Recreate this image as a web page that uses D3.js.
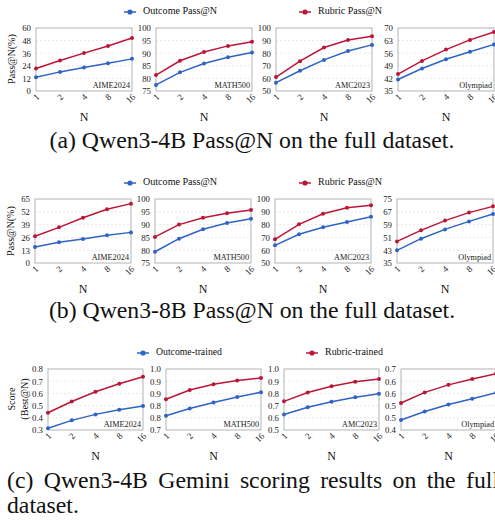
<!DOCTYPE html>
<html>
<head>
<meta charset="utf-8" />
<title>Pass@N</title>
<style type="text/css">
body{
	margin:0;
	background:#fff;
}
svg{
	display:block;
	font-family:"Liberation Serif","DejaVu Serif",serif;
}
</style>
<script src="https://cdn.jsdelivr.net/npm/d3@7"></script>
</head>
<body>
<div id="chart"></div>
<script>
	// x categories and panel names
	var nValues = ["1", "2", "4", "8", "16"];
	var datasets = ["AIME2024", "MATH500", "AMC2023", "Olympiad"];

	// (a) Qwen3-4B Pass@N
	var a_outcome = [
		[13.1, 18.2, 22.3, 26.5, 30.6],
		[77.4, 82.4, 85.9, 88.4, 90.3],
		[56.6, 66.1, 74.7, 81.8, 86.6],
		[41.4, 47.5, 52.6, 56.8, 60.9]
	];
	var a_rubric = [
		[21.4, 29.0, 36.1, 42.8, 50.4],
		[81.3, 87.0, 90.5, 92.9, 94.5],
		[61.1, 73.7, 84.5, 90.5, 93.4],
		[44.4, 51.7, 58.0, 63.4, 67.8]
	];
	var a_ticks = [
		[0, 12, 24, 36, 48, 60],
		[75, 80, 85, 90, 95, 100],
		[50, 60, 70, 80, 90, 100],
		[35, 42, 49, 56, 63, 70]
	];

	// (b) Qwen3-8B Pass@N
	var b_outcome = [
		[16.2, 21.0, 24.4, 28.1, 31.1],
		[79.4, 84.5, 88.2, 90.6, 92.3],
		[63.8, 72.4, 77.9, 82.0, 86.2],
		[42.9, 50.2, 56.0, 61.0, 65.6]
	];
	var b_rubric = [
		[27.1, 36.2, 46.0, 54.5, 60.3],
		[85.2, 90.0, 92.7, 94.4, 95.7],
		[68.5, 80.2, 88.5, 93.2, 95.1],
		[48.5, 55.4, 61.5, 66.5, 70.4]
	];
	var b_ticks = [
		[0, 13, 26, 39, 52, 65],
		[75, 80, 85, 90, 95, 100],
		[50, 60, 70, 80, 90, 100],
		[35, 43, 51, 59, 67, 75]
	];

	// (c) Qwen3-4B Gemini scoring
	var c_outcome = [
		[0.314, 0.379, 0.428, 0.466, 0.496],
		[0.770, 0.806, 0.835, 0.862, 0.886],
		[0.627, 0.686, 0.732, 0.768, 0.797],
		[0.449, 0.491, 0.525, 0.554, 0.583]
	];
	var c_rubric = [
		[0.441, 0.534, 0.614, 0.679, 0.736],
		[0.851, 0.897, 0.925, 0.944, 0.956],
		[0.735, 0.808, 0.859, 0.895, 0.919],
		[0.533, 0.585, 0.622, 0.651, 0.677]
	];
	var c_ticks = [
		[0.3, 0.4, 0.5, 0.6, 0.7, 0.8],
		[0.7, 0.76, 0.82, 0.88, 0.94, 1.0],
		[0.5, 0.6, 0.7, 0.8, 0.9, 1.0],
		[0.4, 0.46, 0.52, 0.58, 0.64, 0.7]
	];

	var BLUE = "#2f63c6";
	var RED = "#bb1638";

	var SVG = d3.select("#chart")
				.append("svg")
				.attr("width", 495)
				.attr("height", 529);

	SVG.append("rect")
		.attr("width", 495)
		.attr("height", 529)
		.attr("fill", "#fff");

	//size a text so that it is as wide as in the picture
	function fit(sel, size, target){
		sel.attr("font-size", size);
		var w = sel.node().getComputedTextLength();
		var s = size * target / w;
		sel.attr("font-size", s);
		return s;
	}

	//one small panel
	function drawPanel(left, top, w, h, name, ticks, fmt, series){
		var g = SVG.append("g").attr("transform", "translate(" + left + "," + top + ")");
		var x = d3.scalePoint().domain(nValues).range([0, w]).padding(0);
		var y = d3.scaleLinear().domain([ticks[0], ticks[ticks.length - 1]]).range([h, 0]);

		//grid
		g.selectAll(".grid")
			.data(ticks.slice(1, -1))
			.enter().append("line")
			.attr("x1", 0).attr("x2", w)
			.attr("y1", function(d){ return y(d); })
			.attr("y2", function(d){ return y(d); })
			.attr("stroke", "#d8d8d8")
			.attr("stroke-width", 0.6)
			.attr("stroke-dasharray", "2,2");

		//y labels
		var yAxis = d3.axisLeft(y).tickValues(ticks).tickFormat(fmt).tickSize(0).tickPadding(5);
		var ya = g.append("g").call(yAxis);
		ya.select(".domain").remove();
		ya.selectAll("text")
			.attr("font-family", "Liberation Serif")
			.attr("font-size", 8.8)
			.attr("fill", "#222");

		//x labels
		var xAxis = d3.axisBottom(x).tickSize(0).tickPadding(0);
		var xa = g.append("g").attr("transform", "translate(0," + h + ")").call(xAxis);
		xa.select(".domain").remove();
		xa.selectAll("text")
			.attr("font-family", "Liberation Serif")
			.attr("font-size", 9)
			.attr("fill", "#222")
			.attr("dy", 0)
			.attr("y", 0)
			.attr("text-anchor", "end")
			.attr("transform", "translate(2,5) rotate(-45)")
			.attr("dominant-baseline", "middle");

		//frame
		g.append("rect")
			.attr("width", w)
			.attr("height", h)
			.attr("fill", "none")
			.attr("stroke", "#a0a0a0")
			.attr("stroke-width", 0.8);

		//lines
		var line = d3.line()
			.x(function(d, i){ return x(nValues[i]); })
			.y(function(d){ return y(d); });
		series.forEach(function(s){
			g.append("path")
				.attr("d", line(s.values))
				.attr("fill", "none")
				.attr("stroke", s.color)
				.attr("stroke-width", 1.5);
			g.selectAll(null)
				.data(s.values)
				.enter().append("circle")
				.attr("cx", function(d, i){ return x(nValues[i]); })
				.attr("cy", function(d){ return y(d); })
				.attr("r", 2)
				.attr("fill", s.color);
		});

		//name
		g.append("text")
			.attr("x", w - 2)
			.attr("y", h - 3)
			.attr("text-anchor", "end")
			.attr("font-size", 8.2)
			.attr("fill", "#222")
			.text(name);

		//N
		g.append("text")
			.attr("x", w / 2)
			.attr("y", h + 30)
			.attr("text-anchor", "middle")
			.attr("font-size", 12)
			.attr("fill", "#111")
			.text("N");
	}

	function legendItem(cx, cy, color, label, width){
		SVG.append("line")
			.attr("x1", cx - 6).attr("x2", cx + 6)
			.attr("y1", cy).attr("y2", cy)
			.attr("stroke", color)
			.attr("stroke-width", 1.5);
		SVG.append("circle")
			.attr("cx", cx).attr("cy", cy)
			.attr("r", 2.6)
			.attr("fill", color);
		var t = SVG.append("text")
			.attr("x", cx + 13)
			.attr("y", cy)
			.attr("dominant-baseline", "middle")
			.attr("fill", "#111")
			.text(label);
		fit(t, 10, width);
	}

	function drawRow(top, h, lefts, w, outcome, rubric, ticks, fmt){
		for( var i = 0; i < 4; i++ ){
			drawPanel(lefts[i], top, w, h, datasets[i], ticks[i], fmt,
				[{values: outcome[i], color: BLUE}, {values: rubric[i], color: RED}]);
		}
	}

	function yTitle(x, y, txt, size){
		return SVG.append("text")
			.attr("transform", "translate(" + x + "," + y + ") rotate(-90)")
			.attr("text-anchor", "middle")
			.attr("dominant-baseline", "middle")
			.attr("font-size", size)
			.attr("fill", "#111")
			.text(txt);
	}

	function caption(x, y, txt, anchor){
		return SVG.append("text")
			.attr("x", x)
			.attr("y", y)
			.attr("text-anchor", anchor)
			.attr("fill", "#111")
			.text(txt);
	}

	//row a
	legendItem(130, 12, BLUE, "Outcome Pass@N", 74);
	legendItem(305, 12, RED, "Rubric Pass@N", 64);
	drawRow(28, 63, [36, 156, 276, 398], 96, a_outcome, a_rubric, a_ticks, d3.format("d"));
	var ys = fit(yTitle(13, 59, "Pass@N(%)", 10), 10, 50);
	var capSize = fit(caption(252, 148, "(a) Qwen3-4B Pass@N on the full dataset.", "middle"), 22, 405);

	//row b
	legendItem(130, 183, BLUE, "Outcome Pass@N", 74);
	legendItem(305, 183, RED, "Rubric Pass@N", 64);
	drawRow(199, 64, [35, 155, 275, 397], 96, b_outcome, b_rubric, b_ticks, d3.format("d"));
	yTitle(12, 231, "Pass@N(%)", ys);
	caption(252, 318, "(b) Qwen3-8B Pass@N on the full dataset.", "middle").attr("font-size", capSize);

	//row c
	legendItem(143, 353, BLUE, "Outcome-trained", 66);
	legendItem(312, 353, RED, "Rubric-trained", 58);
	drawRow(369, 61, [48, 166, 284, 401], 95, c_outcome, c_rubric, c_ticks, d3.format(".1f"));
	yTitle(13, 399, "Score", ys);
	yTitle(26, 399, "(Best@N)", ys);

	//justified first line, runs past the crop
	var c1 = caption(7, 488, "(c) Qwen3-4B Gemini scoring results on the full", "start").attr("font-size", capSize);
	var natural = c1.node().getComputedTextLength();
	c1.attr("word-spacing", (492 - natural) / 7);
	caption(7, 513, "dataset.", "start").attr("font-size", capSize);
</script>
</body>
</html>
